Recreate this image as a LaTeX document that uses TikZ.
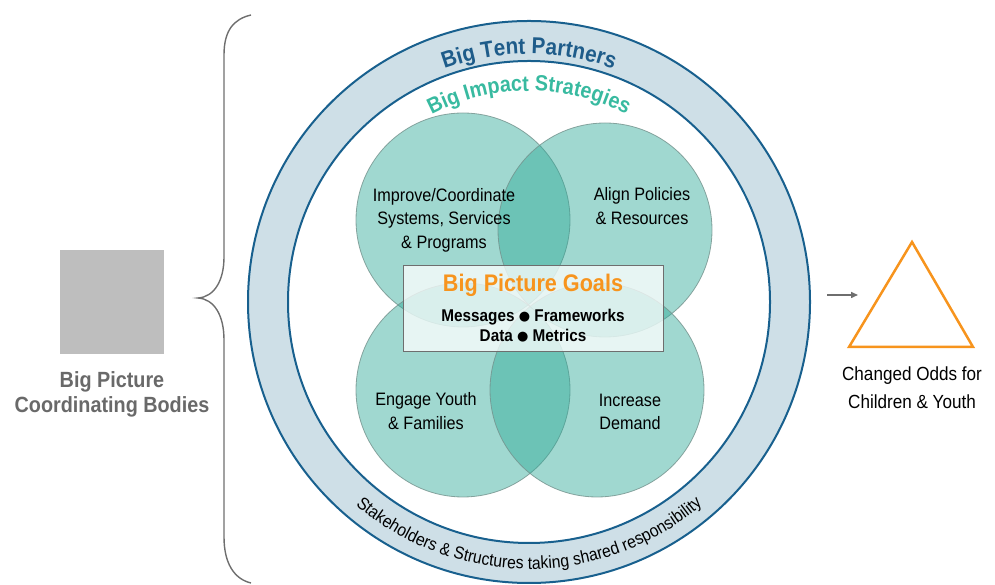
\documentclass[tikz,border=0pt]{standalone}
\usepackage{fontspec}
\setmainfont{Liberation Sans}[FakeStretch=0.9]
\newfontfamily\dotfont{DejaVu Sans}
\usetikzlibrary{calc,decorations.text,arrows.meta}

\definecolor{ringfill}{RGB}{206,223,231}
\definecolor{ringline}{RGB}{24,96,142}
\definecolor{tentblue}{RGB}{30,92,138}
\definecolor{impactteal}{RGB}{56,186,160}
\definecolor{venn}{RGB}{45,169,151}
\definecolor{vennline}{RGB}{115,145,140}
\definecolor{boxline}{RGB}{110,110,110}
\definecolor{goalorange}{RGB}{247,148,29}
\definecolor{bodygray}{RGB}{190,190,190}
\definecolor{labelgray}{RGB}{105,105,105}
\definecolor{bracegray}{RGB}{110,110,110}

% solid round separator used between the goal keywords
\newcommand{\keysep}{\raisebox{1.2pt}{\dotfont\fontsize{13}{13}\selectfont ●}}

\begin{document}
\begin{tikzpicture}[x=1pt,y=1pt,
  venncircle/.style={circle, minimum size=214pt, inner sep=0pt,
    fill=venn, fill opacity=0.45, draw=vennline, draw opacity=0.8, line width=0.8pt},
  circlelabel/.style={align=center, font=\fontsize{18}{23.5}\selectfont},
  ringedge/.style={ringline, line width=2pt},
  sidelabel/.style={align=center},
]
\useasboundingbox (0,0) rectangle (995,585);

\coordinate (C) at (529,283);

% partners ring
\fill[ringfill, even odd rule] (C) circle (281) (C) circle (241);
\draw[ringedge] (C) circle (281);
\draw[ringedge] (C) circle (241);

% strategy circles
\node[venncircle] (improve) at (463,365) {};
\node[venncircle] (align)   at (605,355) {};
\node[venncircle] (engage)  at (463,195) {};
\node[venncircle] (demand)  at (597,195) {};

\node[circlelabel] (improvetxt) at (444,365) {Improve/Coordinate\\Systems, Services\\\& Programs};
\node[circlelabel] (aligntxt)   at (642,379) {Align Policies\\\& Resources};
\node[circlelabel] (engagetxt)  at (426,174) {Engage Youth\\\& Families};
\node[circlelabel] (demandtxt)  at (630,173) {Increase\\Demand};

% goals panel
\node[draw=boxline, fill=white, fill opacity=0.75, line width=1pt,
      minimum width=260pt, minimum height=86pt, inner sep=0pt] (goals) at (533,276) {};
\node[anchor=base, text=goalorange, font=\bfseries\fontsize{24}{24}\selectfont] (goalstitle) at (533,293) {Big Picture Goals};
\node[align=center, font=\bfseries\fontsize{17}{20}\selectfont] (goalsbody) at (533,259.5) {Messages \keysep{} Frameworks\\Data \keysep{} Metrics};

% curved ring captions
\path[decorate, decoration={text along path, text align=center, text color=tentblue,
  text={|\bfseries\fontsize{23}{23}\selectfont|Big Tent Partners}}]
  ($(C)+(125:248)$) arc[start angle=125, end angle=55, radius=248];
\path[decorate, decoration={text along path, text align=center, text color=impactteal,
  text={|\bfseries\fontsize{22}{22}\selectfont|Big Impact Strategies}}]
  ($(C)+(135:211)$) arc[start angle=135, end angle=45, radius=211];
\path[decorate, decoration={text along path, text align=center, text color=black,
  text={|\fontsize{17.5}{17.5}\selectfont|Stakeholders {\&} Structures taking shared responsibility}}]
  ($(C)+(215:267)$) arc[start angle=215, end angle=325, radius=267];

% coordinating bodies
\node[fill=bodygray, minimum width=104pt, minimum height=104pt, inner sep=0pt] (bodies) at (112,283) {};
\node[sidelabel, text=labelgray, font=\bfseries\fontsize{22}{25}\selectfont] (bodiestxt) at (112,191) {Big Picture\\Coordinating Bodies};

% brace gathering the ring
\coordinate (bracetop) at (251,570);
\coordinate (bracetip) at (198,287);
\coordinate (bracebot) at (251,2);
\draw[bracegray, line width=1.4pt]
  (bracetop) .. controls (234,566) and (224,555) .. (224,530)
  -- (224,328) .. controls (224,304) and (214,288) .. (bracetip)
  .. controls (214,286) and (224,270) .. (224,245)
  -- (224,48) .. controls (224,22) and (234,6) .. (bracebot);

% outcome
\coordinate (arrowstart) at (827,290);
\coordinate (arrowend) at (858,290);
\draw[bracegray, line width=1.5pt, -{Triangle[length=7pt,width=6pt]}] (arrowstart) -- (arrowend);

\coordinate (apex) at (912,343);
\coordinate (baseleft) at (849,238);
\coordinate (baseright) at (973,238);
\draw[goalorange, line width=2.5pt, line join=miter] (apex) -- (baseleft) -- (baseright) -- cycle;
\node[sidelabel, font=\fontsize{19}{28}\selectfont] (oddstxt) at (912,197) {Changed Odds for\\Children \& Youth};
\end{tikzpicture}
\end{document}
